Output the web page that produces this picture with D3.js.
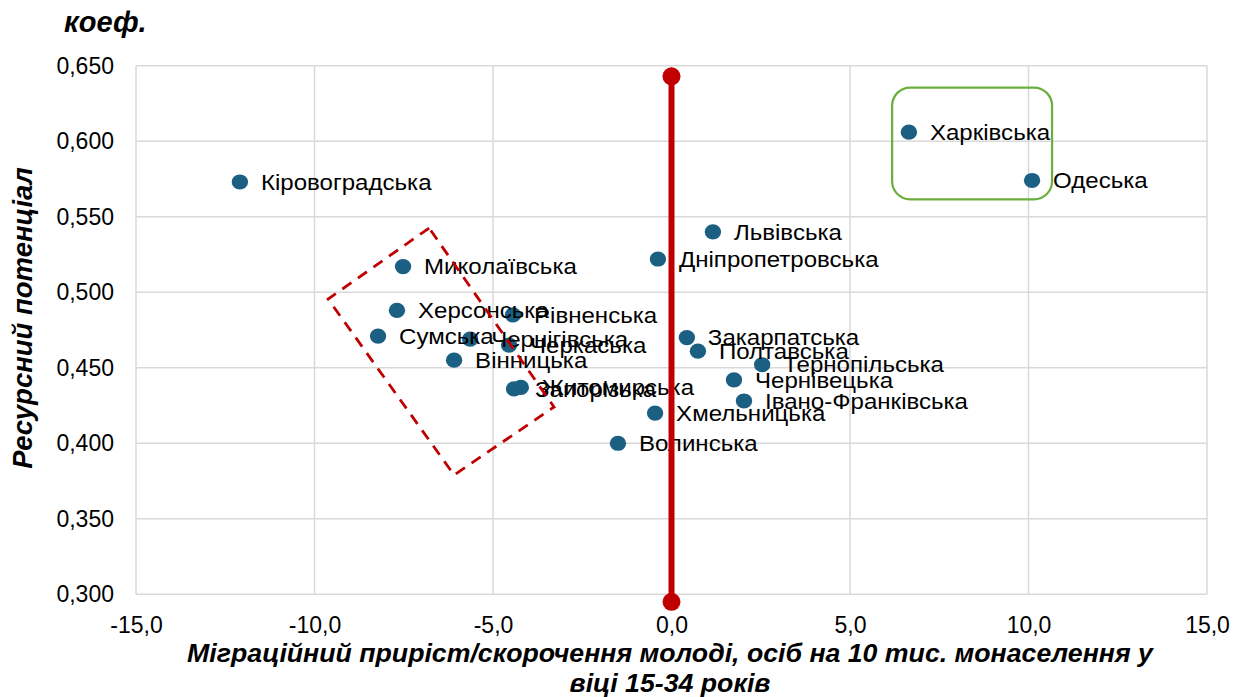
<!DOCTYPE html>
<html><head><meta charset="utf-8">
<script src="https://cdn.jsdelivr.net/npm/d3@7/dist/d3.min.js"></script>
<style>
html,body{margin:0;padding:0;background:#fff;}
svg text{font-family:"Liberation Sans",Arial,sans-serif;}
</style></head>
<body>
<svg id="chart" width="1238" height="697"></svg>
<script>
// ---- data ----
const regions = ["Кіровоградська","Харківська","Одеська","Львівська","Дніпропетровська","Миколаївська","Херсонська","Рівненська","Сумська","Чернігівська","Черкаська","Вінницька","Запорізька","Житомирська","Хмельницька","Волинська","Закарпатська","Полтавська","Тернопільська","Чернівецька","Івано-Франківська"];
const migration = [-12.09, 6.65, 10.10, 1.16, -0.38, -7.52, -7.69, -4.44, -8.22, -5.64, -4.55, -6.09, -4.41, -4.22, -0.46, -1.50, 0.43, 0.74, 2.54, 1.75, 2.03];
const potential = [0.573, 0.606, 0.574, 0.540, 0.522, 0.517, 0.488, 0.485, 0.471, 0.469, 0.465, 0.455, 0.436, 0.437, 0.420, 0.400, 0.470, 0.461, 0.452, 0.442, 0.428];
const refLineX = [0, 0];
const refLineY = [0.643, 0.295];
const xTicks = [-15, -10, -5, 0, 5, 10, 15];
const yTicks = [0.300, 0.350, 0.400, 0.450, 0.500, 0.550, 0.600, 0.650];
// annotation shapes in data coordinates
const greenBox = {x0: 6.18, x1: 10.66, y0: 0.6355, y1: 0.5615};
const redBoxX = [-6.79, -9.62, -6.09, -3.29];
const redBoxY = [0.5425, 0.4955, 0.3790, 0.4240];

const svg = d3.select("#chart");
const M = {left:136, right:1207, top:65.7, bottom:594.3};
const x = d3.scaleLinear().domain([-15,15]).range([M.left, M.right]);
const y = d3.scaleLinear().domain([0.300,0.650]).range([M.bottom, M.top]);
const fmtX = v => d3.format(".1f")(v).replace(".", ",").replace("−","-");
const fmtY = v => d3.format(".3f")(v).replace(".", ",");

// grid
const grid = svg.append("g");
grid.selectAll("line.v").data(xTicks).join("line")
  .attr("x1", d=>x(d)).attr("x2", d=>x(d)).attr("y1", M.top).attr("y2", M.bottom)
  .attr("stroke", "#d9d9d9").attr("stroke-width", 1.5);
grid.selectAll("line.h").data(yTicks).join("line")
  .attr("x1", M.left).attr("x2", M.right).attr("y1", d=>y(d)).attr("y2", d=>y(d))
  .attr("stroke", "#d9d9d9").attr("stroke-width", 1.5);

// axes (labels only)
const xAxis = svg.append("g").attr("transform", `translate(0,${M.bottom})`)
  .call(d3.axisBottom(x).tickValues(xTicks).tickFormat(fmtX).tickSize(0).tickPadding(22));
xAxis.select(".domain").remove();
xAxis.selectAll("text").attr("font-size", 23).attr("fill", "#000")
  .attr("font-family", "Liberation Sans, Arial, sans-serif");
const yAxis = svg.append("g").attr("transform", `translate(${M.left},0)`)
  .call(d3.axisLeft(y).tickValues(yTicks).tickFormat(fmtY).tickSize(0).tickPadding(22));
yAxis.select(".domain").remove();
yAxis.selectAll("text").attr("font-size", 23).attr("fill", "#000")
  .attr("font-family", "Liberation Sans, Arial, sans-serif");

// points
const pts = regions.map((r,i)=>({name:r, x:migration[i], y:potential[i]}));
svg.append("g").selectAll("ellipse").data(pts).join("ellipse")
  .attr("cx", d=>x(d.x)).attr("cy", d=>y(d.y)).attr("rx", 8.2).attr("ry", 7.6)
  .attr("fill", "#1b5f82");

// labels (slightly widened like the reference)
svg.append("g").selectAll("text").data(pts).join("text")
  .attr("transform", d=>`translate(${x(d.x)+21},${y(d.y)}) scale(1.12,1)`)
  .attr("dy", "0.36em")
  .attr("font-size", 21.5).attr("fill", "#000").text(d=>d.name);

// red reference line
const line = d3.line().x(d=>x(d[0])).y(d=>y(d[1]));
const ref = refLineX.map((v,i)=>[v, refLineY[i]]);
svg.append("path").attr("d", line(ref)).attr("stroke", "#c00000")
  .attr("stroke-width", 6).attr("fill", "none");
svg.append("g").selectAll("circle").data(ref).join("circle")
  .attr("cx", d=>x(d[0])).attr("cy", d=>y(d[1])).attr("r", 9).attr("fill", "#c00000");

// green rounded box
svg.append("rect")
  .attr("x", x(greenBox.x0)).attr("y", y(greenBox.y0))
  .attr("width", x(greenBox.x1)-x(greenBox.x0)).attr("height", y(greenBox.y1)-y(greenBox.y0))
  .attr("rx", 18).attr("ry", 18)
  .attr("fill", "none").attr("stroke", "#6aaf3d").attr("stroke-width", 2.2);

// red dashed box
const redPts = redBoxX.map((v,i)=>[x(v), y(redBoxY[i])]);
svg.append("path").attr("d", "M" + redPts.map(p=>p.join(",")).join("L") + "Z")
  .attr("fill", "none").attr("stroke", "#c00000").attr("stroke-width", 2.8)
  .attr("stroke-dasharray", "11,8");

// titles
svg.append("text").attr("x", 64).attr("y", 32).attr("font-size", 29)
  .attr("font-weight", "bold").attr("font-style", "italic").text("коеф.");
svg.append("text").attr("transform", "translate(32,318) rotate(-90)")
  .attr("text-anchor", "middle").attr("font-size", 27.5)
  .attr("font-weight", "bold").attr("font-style", "italic").text("Ресурсний потенціал");
const xt = svg.append("text").attr("text-anchor", "middle").attr("font-size", 26.7)
  .attr("font-weight", "bold").attr("font-style", "italic");
xt.append("tspan").attr("x", 670).attr("y", 662)
  .text("Міграційний приріст/скорочення молоді, осіб на 10 тис. монаселення у");
xt.append("tspan").attr("x", 670).attr("y", 692).text("віці 15-34 років");
</script>
</body></html>
